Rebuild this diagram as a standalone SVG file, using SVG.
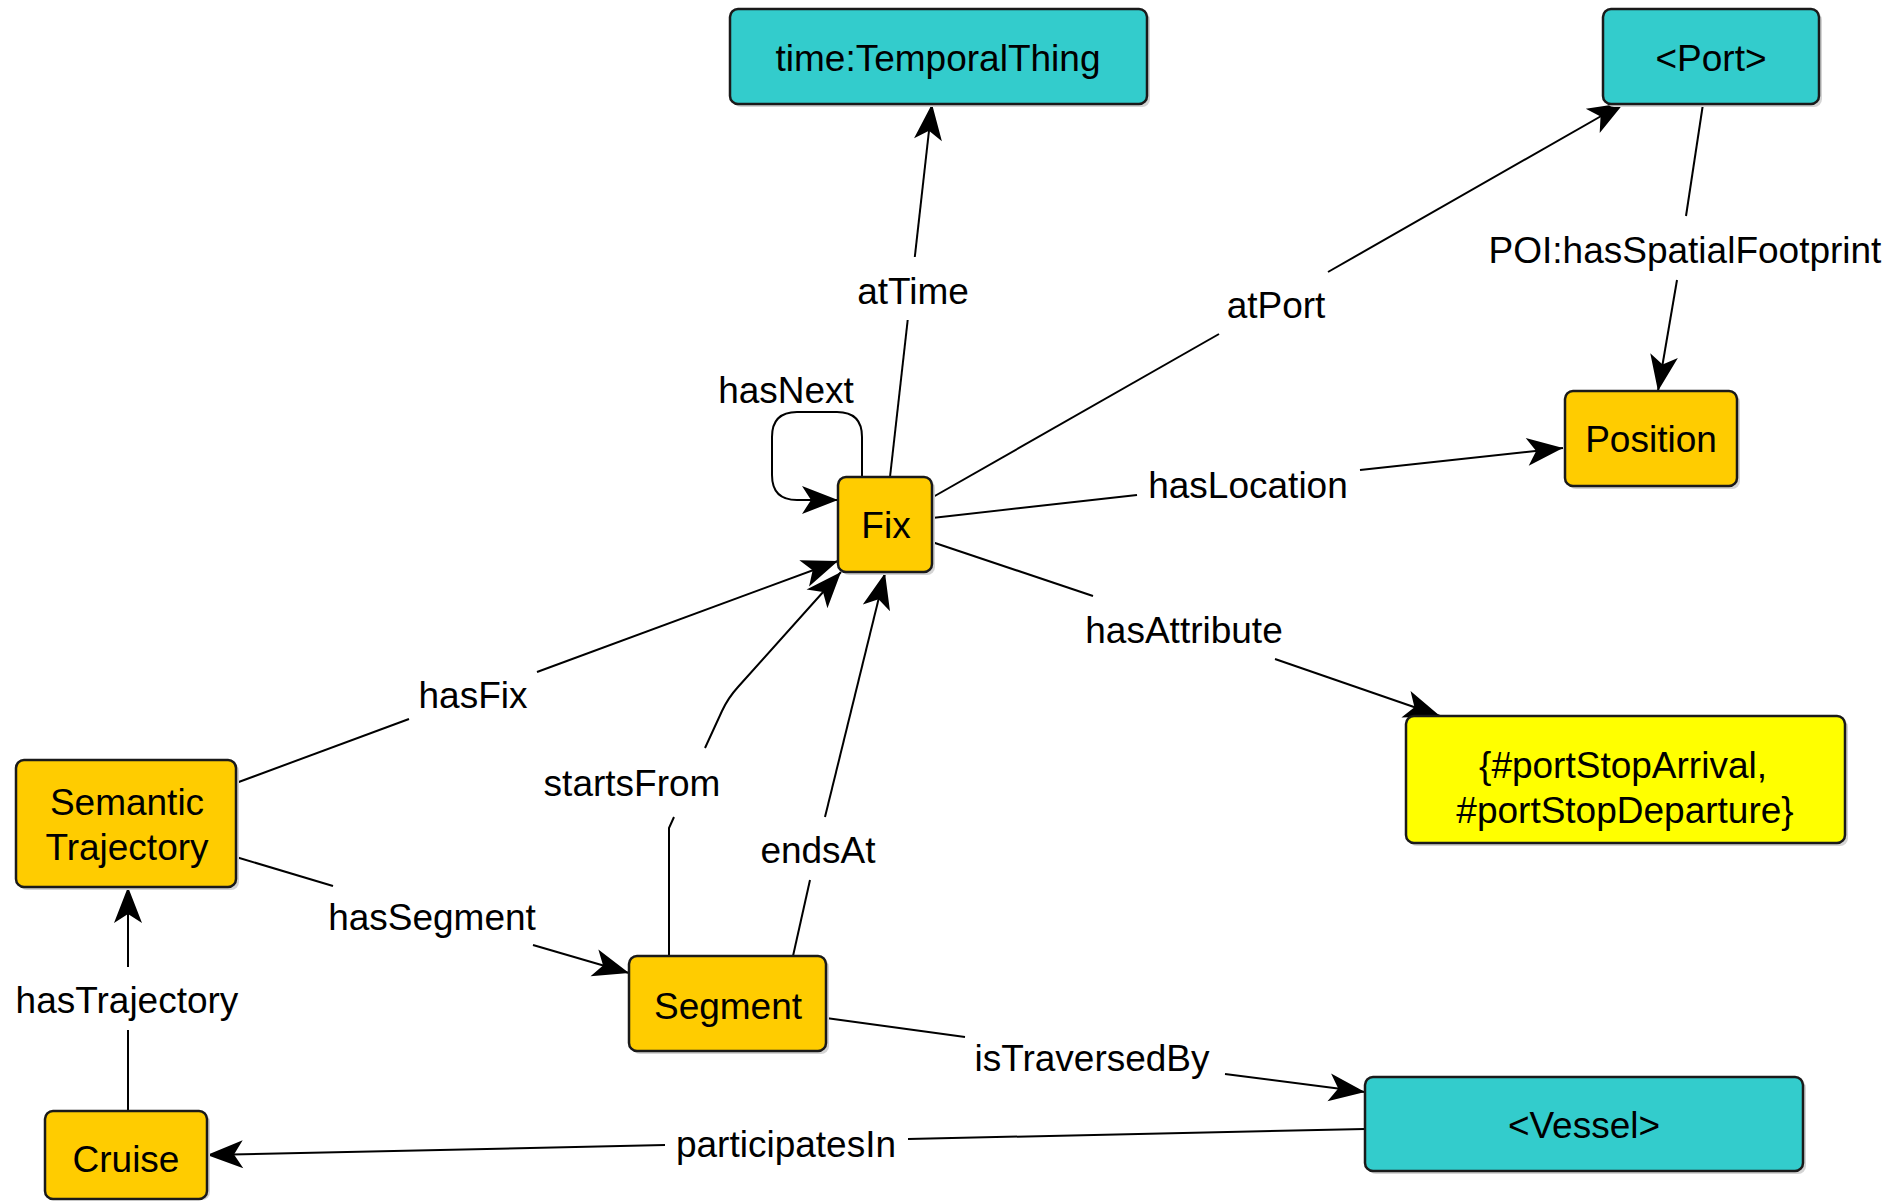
<svg xmlns="http://www.w3.org/2000/svg" width="1891" height="1202" viewBox="0 0 1891 1202">
<style>
text{font-family:"Liberation Sans",Arial,sans-serif;font-size:37px;fill:#000;text-anchor:middle}
.shadow{fill:#d4d4d4}
.box{stroke:#1a1a1a;stroke-width:2.5}
.teal{fill:#33CCCC}
.gold{fill:#FFCC00}
.yel{fill:#FFFF00}
.edge{fill:none;stroke:#000;stroke-width:2}
</style>
<defs>
<marker id="arr" viewBox="-37 -16 38 32" refX="0" refY="0" markerWidth="38" markerHeight="32" markerUnits="userSpaceOnUse" orient="auto">
<path d="M0,0 L-36,-14 L-27,0 L-36,14 Z" fill="#000"/>
</marker>
</defs>
<rect width="1891" height="1202" fill="#fff"/>
<g id="connectors">
<g id="e-atTime"><path class="edge" d="M890,477 L907.7,320"/><path class="edge" d="M914.8,257 L932,104" marker-end="url(#arr)"/><text x="913" y="304">atTime</text></g>
<g id="e-atPort"><path class="edge" d="M933,497 L1219,334"/><path class="edge" d="M1328,272 L1624,103" marker-end="url(#arr)"/><text x="1276" y="318">atPort</text></g>
<g id="e-footprint"><path class="edge" d="M1703,104 L1686,216"/><path class="edge" d="M1677,280 L1658,391" marker-end="url(#arr)"/><text x="1685" y="263">POI:hasSpatialFootprint</text></g>
<g id="e-hasLocation"><path class="edge" d="M932,518 L1137,495"/><path class="edge" d="M1360,470 L1563,448" marker-end="url(#arr)"/><text x="1248" y="498">hasLocation</text></g>
<g id="e-hasAttribute"><path class="edge" d="M932,542 L1093,596"/><path class="edge" d="M1275,659 L1440,716" marker-end="url(#arr)"/><text x="1184" y="643">hasAttribute</text></g>
<g id="e-hasNext"><path class="edge" d="M862,477 L862,437 Q862,412 837,412 L797,412 Q772,412 772,437 L772,475 Q772,500 797,500 L838,500" marker-end="url(#arr)"/><text x="786" y="403">hasNext</text></g>
<g id="e-hasFix"><path class="edge" d="M236,783 L409,719"/><path class="edge" d="M537,672 L838,561" marker-end="url(#arr)"/><text x="473" y="708">hasFix</text></g>
<g id="e-startsFrom"><path class="edge" d="M669,956 L669,828 L674,817"/><path class="edge" d="M705,748 L722,711 Q728,698 738,687 L841,572" marker-end="url(#arr)"/><text x="632" y="796">startsFrom</text></g>
<g id="e-endsAt"><path class="edge" d="M793,956 L810,880"/><path class="edge" d="M825,817 L885,573" marker-end="url(#arr)"/><text x="818" y="863">endsAt</text></g>
<g id="e-hasSegment"><path class="edge" d="M236,857 L333,886"/><path class="edge" d="M533,945 L629,973" marker-end="url(#arr)"/><text x="432" y="930">hasSegment</text></g>
<g id="e-hasTrajectory"><path class="edge" d="M128,1111 L128,1030"/><path class="edge" d="M128,967 L128,887" marker-end="url(#arr)"/><text x="127" y="1013">hasTrajectory</text></g>
<g id="e-isTraversedBy"><path class="edge" d="M826,1018 L965,1037"/><path class="edge" d="M1225,1074 L1365,1092" marker-end="url(#arr)"/><text x="1092" y="1071">isTraversedBy</text></g>
<g id="e-participatesIn"><path class="edge" d="M1365,1129 L908,1139"/><path class="edge" d="M665,1145 L207,1155" marker-end="url(#arr)"/><text x="786" y="1157">participatesIn</text></g>
</g>
<g id="n-temporal"><rect class="shadow" x="733" y="12" width="417" height="95" rx="8"/><rect class="box teal" x="730" y="9" width="417" height="95" rx="8"/><text x="938" y="71">time:TemporalThing</text></g>
<g id="n-port"><rect class="shadow" x="1606" y="12" width="216" height="95" rx="8"/><rect class="box teal" x="1603" y="9" width="216" height="95" rx="8"/><text x="1711" y="71">&lt;Port&gt;</text></g>
<g id="n-position"><rect class="shadow" x="1568" y="394" width="172" height="95" rx="8"/><rect class="box gold" x="1565" y="391" width="172" height="95" rx="8"/><text x="1651" y="452">Position</text></g>
<g id="n-fix"><rect class="shadow" x="841" y="480" width="94" height="95" rx="8"/><rect class="box gold" x="838" y="477" width="94" height="95" rx="8"/><text x="886" y="538">Fix</text></g>
<g id="n-attr"><rect class="shadow" x="1409" y="719" width="439" height="127" rx="8"/><rect class="box yel" x="1406" y="716" width="439" height="127" rx="8"/><text x="1623" y="778">{#portStopArrival,</text><text x="1625" y="823">#portStopDeparture}</text></g>
<g id="n-semtraj"><rect class="shadow" x="19" y="763" width="220" height="127" rx="8"/><rect class="box gold" x="16" y="760" width="220" height="127" rx="8"/><text x="127" y="815">Semantic</text><text x="127" y="860">Trajectory</text></g>
<g id="n-segment"><rect class="shadow" x="632" y="959" width="197" height="95" rx="8"/><rect class="box gold" x="629" y="956" width="197" height="95" rx="8"/><text x="728" y="1019">Segment</text></g>
<g id="n-cruise"><rect class="shadow" x="48" y="1114" width="162" height="86" rx="8"/><rect class="box gold" x="45" y="1111" width="162" height="88" rx="8"/><text x="126" y="1172">Cruise</text></g>
<g id="n-vessel"><rect class="shadow" x="1368" y="1080" width="438" height="94" rx="8"/><rect class="box teal" x="1365" y="1077" width="438" height="94" rx="8"/><text x="1584" y="1138">&lt;Vessel&gt;</text></g>
</svg>
